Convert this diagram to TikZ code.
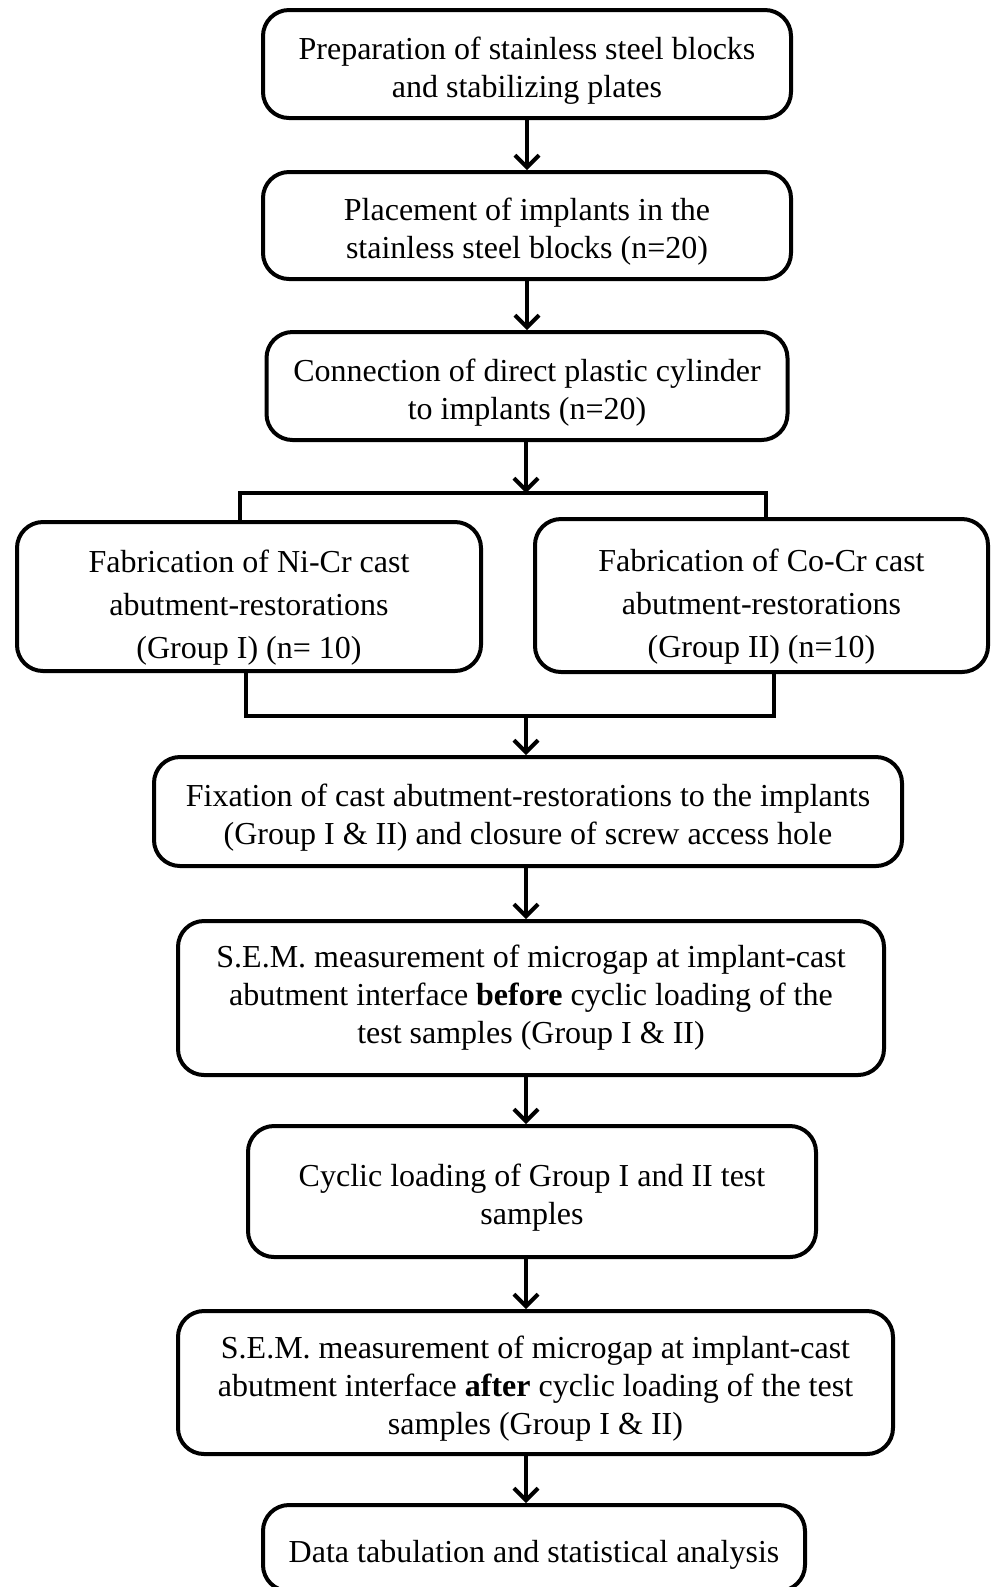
\documentclass[tikz,border=0pt]{standalone}
\usepackage{fontspec}
\setmainfont{Liberation Serif}
\usetikzlibrary{positioning, arrows.meta}

\newcommand{\vpad}{\rule{0pt}{17.5pt}}
\newcommand{\wpad}{\rule{0pt}{22.5pt}}

\begin{document}
\begin{tikzpicture}[
    node distance=25pt,
    >={Straight Barb[length=6pt, width=12pt]},
    box/.style={rectangle, draw, line width=2pt, rounded corners=13pt,
        align=center, inner sep=0pt, font=\fontsize{16pt}{19pt}\selectfont},
    wbox/.style={box, font=\fontsize{16pt}{21.5pt}\selectfont},
    arrow/.style={->, line width=2pt},
    link/.style={line width=2pt},
    ]
    \useasboundingbox (0,-1pt) rectangle (496pt,-794.5pt);

    \node[box, minimum width=264pt, minimum height=54pt] (prep) at (263.5pt,-33pt) {\vpad Preparation of stainless steel blocks\\and stabilizing plates};
    \node[box, below=25pt of prep, minimum width=264pt, minimum height=53.5pt] (place) {\vpad Placement of implants in the\\stainless steel blocks (n=20)};
    \node[box, below=24.5pt of place, minimum width=260.5pt, minimum height=54pt] (conn) {\vpad Connection of direct plastic cylinder\\to implants (n=20)};
    \draw[arrow] (prep) -- (place);
    \draw[arrow] (place) -- (conn);

    % split into the two alloy groups
    \coordinate (split) at (263pt,-247.5pt);
    \coordinate (splitL) at (120pt,-247.5pt);
    \coordinate (splitR) at (383pt,-247.5pt);
    \node[wbox, minimum width=232pt, minimum height=74.5pt] (nicr) at (124.5pt,-299.25pt) {\wpad Fabrication of Ni-Cr cast\\abutment-restorations\\(Group I) (n= 10)};
    \node[wbox, minimum width=226.5pt, minimum height=76.5pt] (cocr) at (380.75pt,-298.75pt) {\wpad Fabrication of Co-Cr cast\\abutment-restorations\\(Group II) (n=10)};
    \draw[arrow] (conn.south -| split) -- (split);
    \draw[link] (splitL |- nicr.north) -- (splitL) -- (splitR) -- (splitR |- cocr.north);

    % join the groups again
    \coordinate (join) at (263pt,-359pt);
    \coordinate (joinL) at (123pt,-359pt);
    \coordinate (joinR) at (387pt,-359pt);
    \draw[link] (joinL |- nicr.south) -- (joinL) -- (joinR) -- (joinR |- cocr.south);

    \node[box, below=19.5pt of join, xshift=1pt, minimum width=374pt, minimum height=54.5pt] (fix) {\vpad Fixation of cast abutment-restorations to the implants\\(Group I \& II) and closure of screw access hole};
    \node[box, below=25.5pt of fix, xshift=1.5pt, minimum width=353pt, minimum height=77pt] (semb) {S.E.M. measurement of microgap at implant-cast\\abutment interface \textbf{before} cyclic loading of the\\test samples (Group I \& II)};
    \node[box, below=23.5pt of semb, xshift=0.5pt, minimum width=284pt, minimum height=65.5pt] (cyc) {\vpad Cyclic loading of Group I and II test\\samples};
    \node[box, below=25pt of cyc, xshift=1.75pt, minimum width=357.5pt, minimum height=71.5pt] (sema) {\vpad S.E.M. measurement of microgap at implant-cast\\abutment interface \textbf{after} cyclic loading of the test\\samples (Group I \& II)};
    \node[box, below=23.5pt of sema, xshift=-0.75pt, minimum width=271pt, minimum height=43pt] (data) {\vpad Data tabulation and statistical analysis};

    \draw[arrow] (join) -- (fix.north -| join);
    \draw[arrow] (fix.south -| join) -- (semb.north -| join);
    \draw[arrow] (semb.south -| join) -- (cyc.north -| join);
    \draw[arrow] (cyc.south -| join) -- (sema.north -| join);
    \draw[arrow] (sema.south -| join) -- (data.north -| join);
\end{tikzpicture}
\end{document}
